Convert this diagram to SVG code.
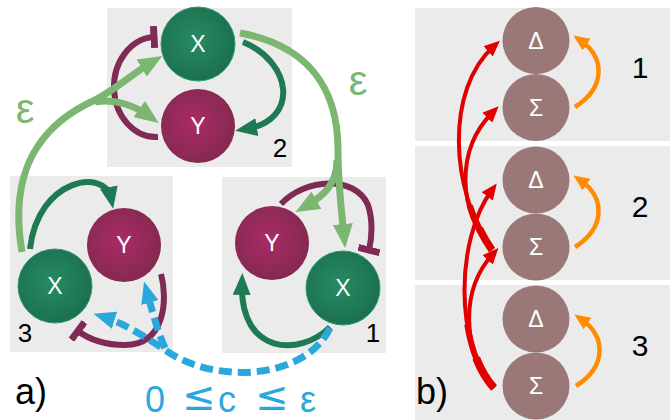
<svg xmlns="http://www.w3.org/2000/svg" width="670" height="420" viewBox="0 0 670 420">
<defs>
<radialGradient id="gX" cx="0.45" cy="0.45" r="0.6"><stop offset="0" stop-color="#268c62"/><stop offset="1" stop-color="#1b6e4d"/></radialGradient>
<radialGradient id="gY" cx="0.45" cy="0.45" r="0.6"><stop offset="0" stop-color="#aa2b66"/><stop offset="1" stop-color="#82294f"/></radialGradient>
<marker id="mLG" markerUnits="userSpaceOnUse" markerWidth="24" markerHeight="20" refX="12" refY="10" orient="auto"><path d="M0,0 L24,10 L0,20 z" fill="#7cb772"/></marker>
<marker id="mDG" markerUnits="userSpaceOnUse" markerWidth="22" markerHeight="18" refX="11" refY="9" orient="auto"><path d="M0,0 L22,9 L0,18 z" fill="#1e7a53"/></marker>
<marker id="mBL" markerUnits="userSpaceOnUse" markerWidth="22" markerHeight="18" refX="11" refY="9" orient="auto"><path d="M0,0 L22,9 L0,18 z" fill="#2aa8dc"/></marker>
<marker id="mRD" markerUnits="userSpaceOnUse" markerWidth="16" markerHeight="14" refX="8" refY="7" orient="auto"><path d="M0,0 L16,7 L0,14 z" fill="#e00000"/></marker>
<marker id="mOR" markerUnits="userSpaceOnUse" markerWidth="16" markerHeight="14" refX="8" refY="7" orient="auto"><path d="M0,0 L16,7 L0,14 z" fill="#ff8c00"/></marker>
<marker id="mBar" markerUnits="userSpaceOnUse" markerWidth="8" markerHeight="22" refX="3.5" refY="11" orient="auto"><rect x="0" y="0" width="7" height="22" fill="#7f2b55"/></marker>
</defs>
<style>
.box{fill:#ebebeb}
.nx{fill:url(#gX);stroke:#2f9a76;stroke-width:1}
.ny{fill:url(#gY)}
.nb{fill:#9a7878}
.lbl{font-family:"Liberation Sans",Arial,sans-serif;fill:#fff;font-size:23px;text-anchor:middle}
.num{font-family:"Liberation Sans",Arial,sans-serif;fill:#000;font-size:26px;text-anchor:middle}
.big{font-family:"Liberation Sans",Arial,sans-serif;font-size:36px}
.eps{font-family:"Liberation Sans",Arial,sans-serif;fill:#7cb772;font-size:42px;text-anchor:middle}
.blu{font-family:"Liberation Sans",Arial,sans-serif;fill:#2aa8dc;font-size:36px;text-anchor:middle}
.le{font-family:"DejaVu Sans",sans-serif;font-size:40px}
.lg{fill:none;stroke:#7cb772;stroke-width:7}
.dg{fill:none;stroke:#1e7a53;stroke-width:6}
.mr{fill:none;stroke:#7f2b55;stroke-width:6}
.bl{fill:none;stroke:#2aa8dc;stroke-width:7;stroke-dasharray:13 6}
.rd{fill:none;stroke:#e00000;stroke-width:4}
.or{fill:none;stroke:#ff8c00;stroke-width:4.5}
</style>

<g id="backgrounds">
<rect class="box" x="107" y="8" width="185" height="159"/>
<rect class="box" x="10" y="176" width="163" height="176"/>
<rect class="box" x="222" y="177" width="164" height="176"/>
<rect class="box" x="415" y="8" width="255" height="133"/>
<rect class="box" x="415" y="146" width="255" height="134"/>
<rect class="box" x="415" y="285" width="255" height="135"/>
</g>

<g id="connectors">
<path class="mr" d="M158,137 A42,50 0 0 1 154,37" marker-end="url(#mBar)"/>
<path class="dg" d="M243,42 C292,62 300,120 246,129" marker-end="url(#mDG)"/>
<path class="dg" d="M30,249 C38,178 105,168 111,198" marker-end="url(#mDG)"/>
<path class="mr" d="M161,274 C168,300 165,345 125,345 C105,345 90,340 78,331" marker-end="url(#mBar)"/>
<path class="mr" d="M281,204 C305,178 355,175 368,205 C373,220 372,238 369,250" marker-end="url(#mBar)"/>
<path class="dg" d="M330,327 C300,357 240,355 242,284" marker-end="url(#mDG)"/>
<path class="lg" d="M22,252 C8,170 40,125 95,100 C115,90 135,72 152,62" marker-end="url(#mLG)"/>
<path class="lg" d="M95,102 C115,98 135,106 149,116" marker-end="url(#mLG)"/>
<path class="lg" d="M240,33 C305,45 338,85 338,150 C338,185 342,215 344,236" marker-end="url(#mLG)"/>
<path class="lg" d="M337,160 C337,185 322,197 306,206" marker-end="url(#mLG)"/>
<path class="bl" d="M330,328 C305,380 215,385 165,350 C140,333 120,322 104,317" marker-end="url(#mBL)"/>
<path class="bl" d="M165,348 C157,330 152,310 147,292" marker-end="url(#mBL)"/>
<path class="rd" d="M494,388 C455,345 455,240 492,190" marker-end="url(#mRD)"/>
<path class="rd" d="M494,388 C462,350 460,290 493,254" marker-end="url(#mRD)"/>
<path class="rd" d="M492,250 C458,210 455,150 493,112" marker-end="url(#mRD)"/>
<path class="rd" d="M492,250 C450,190 445,90 494,46" marker-end="url(#mRD)"/>
<path class="rd" style="stroke-width:6;stroke-dasharray:70 1000" d="M494,388 C455,345 455,240 492,190"/>
<path class="rd" style="stroke-width:8;stroke-dasharray:35 1000" d="M494,388 C455,345 455,240 492,190"/>
<path class="rd" style="stroke-width:6;stroke-dasharray:50 1000" d="M492,250 C450,190 445,90 494,46"/>
<path class="rd" style="stroke-width:7.5;stroke-dasharray:25 1000" d="M492,250 C450,190 445,90 494,46"/>
<path class="or" d="M575,107 C605,88 606,58 580,40" marker-end="url(#mOR)"/>
<path class="or" d="M575,247 C605,228 606,198 580,180" marker-end="url(#mOR)"/>
<path class="or" d="M576,386 C606,367 607,337 581,319" marker-end="url(#mOR)"/>
</g>

<g id="X2"><circle class="nx" cx="198" cy="44" r="37"/><text class="lbl" x="198" y="52">X</text></g>
<g id="Y2"><circle class="ny" cx="198" cy="126" r="37"/><text class="lbl" x="198" y="134">Y</text></g>
<g id="X3"><circle class="nx" cx="55" cy="286" r="37"/><text class="lbl" x="55" y="294">X</text></g>
<g id="Y3"><circle class="ny" cx="124" cy="245" r="37"/><text class="lbl" x="124" y="253">Y</text></g>
<g id="Y1"><circle class="ny" cx="272" cy="243" r="37"/><text class="lbl" x="272" y="251">Y</text></g>
<g id="X1"><circle class="nx" cx="343" cy="288" r="37"/><text class="lbl" x="343" y="296">X</text></g>

<g id="D1"><circle class="nb" cx="536" cy="40.5" r="33.5"/><text class="lbl" x="536" y="48.5">Δ</text></g>
<g id="S1"><circle class="nb" cx="536" cy="107.5" r="33.5"/><text class="lbl" x="536" y="115.5">Σ</text></g>
<g id="D2"><circle class="nb" cx="536" cy="180" r="33.5"/><text class="lbl" x="536" y="188">Δ</text></g>
<g id="S2"><circle class="nb" cx="536" cy="247" r="33.5"/><text class="lbl" x="536" y="255">Σ</text></g>
<g id="D3"><circle class="nb" cx="536" cy="319" r="33.5"/><text class="lbl" x="536" y="327">Δ</text></g>
<g id="S3"><circle class="nb" cx="536" cy="386" r="33.5"/><text class="lbl" x="536" y="394">Σ</text></g>

<g id="labels">
<text class="num" x="280" y="157">2</text>
<text class="num" x="25" y="342">3</text>
<text class="num" x="373" y="342">1</text>
<text class="num" x="640" y="78" style="font-size:30px">1</text>
<text class="num" x="640" y="217" style="font-size:30px">2</text>
<text class="num" x="640" y="356" style="font-size:30px">3</text>
<text class="eps" x="25" y="123">ε</text>
<text class="eps" x="358" y="95">ε</text>
<text class="big" x="15" y="404">a)</text>
<text class="big" x="416" y="404">b)</text>
<text class="blu" x="155" y="412">0</text>
<text class="blu le" x="199" y="410">≤</text>
<text class="blu" x="227" y="412">c</text>
<text class="blu le" x="272" y="410">≤</text>
<text class="blu" x="308" y="412">ε</text>
</g>
</svg>
